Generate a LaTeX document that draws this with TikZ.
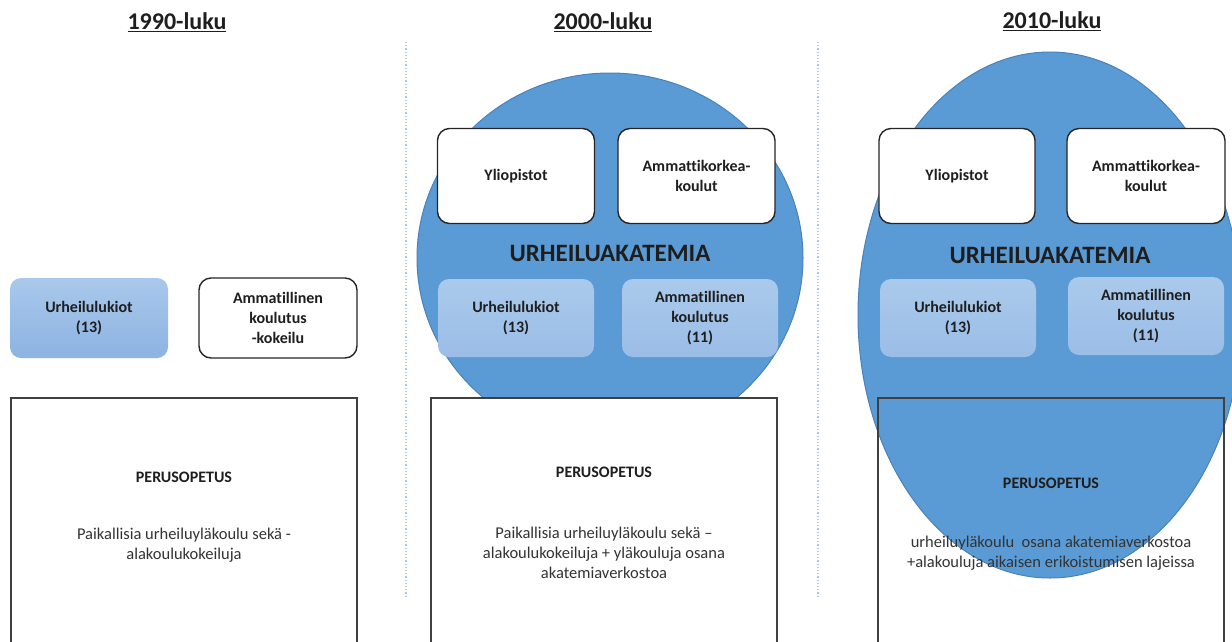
\documentclass[tikz,border=0pt]{standalone}
\usepackage{fontspec}
\setmainfont[Ligatures=NoCommon]{Carlito}
\usetikzlibrary{shapes.geometric}
\definecolor{akblue}{HTML}{5B9BD5}
\definecolor{akedge}{HTML}{4A82B8}
\definecolor{lighttop}{HTML}{AACAEC}
\definecolor{lightbot}{HTML}{9BBDE6}
\definecolor{lukitop}{HTML}{A9C8EB}
\definecolor{lukibot}{HTML}{8DB3E2}
\definecolor{dotblue}{HTML}{A8C8E8}
\definecolor{txt}{HTML}{1E1E1E}
\tikzset{
  title/.style={font=\bfseries\fontsize{24}{28}\selectfont, text=txt, inner sep=0pt},
  wbox/.style={draw=black!85, line width=1.4pt, fill=white, rounded corners=12pt,
    minimum width=157pt, minimum height=95pt, inner sep=0pt, align=center,
    font=\bfseries\fontsize{16}{20}\selectfont, text=txt},
  lbox/.style={top color=lighttop, bottom color=lightbot, draw=none, rounded corners=11pt,
    minimum width=156pt, minimum height=78pt, inner sep=0pt, align=center,
    font=\bfseries\fontsize{16}{20}\selectfont, text=txt},
  pbox/.style={draw=black!75, line width=1.6pt, rectangle,
    minimum width=346pt, minimum height=262pt, inner sep=0pt},
  phead/.style={font=\bfseries\fontsize{16}{20}\selectfont, text=txt, inner sep=0pt},
  pbody/.style={font=\fontsize{16.5}{20}\selectfont, text=black!80, align=center, inner sep=0pt},
  akad/.style={ellipse, fill=akblue, draw=akedge, line width=1pt, inner sep=0pt},
  aklabel/.style={font=\bfseries\fontsize{25}{30}\selectfont, text=txt, inner sep=0pt},
  sep/.style={draw=dotblue, line width=1.2pt, dotted}
}
\begin{document}
\begin{tikzpicture}[x=1pt,y=-1pt]
\clip (0,0) rectangle (1232,641);
\fill[white] (0,0) rectangle (1232,641);

% separators
\coordinate (s1a) at (406,42); \coordinate (s1b) at (406,598);
\coordinate (s2a) at (818,42); \coordinate (s2b) at (818,598);
\draw[sep] (s1a) -- (s1b);
\draw[sep] (s2a) -- (s2b);

% titles
\node[title] (t1) at (177,22) {\underline{1990-luku}};
\node[title] (t2) at (603,22) {\underline{2000-luku}};
\node[title] (t3) at (1052,21) {\underline{2010-luku}};

% ---------- 1990 ----------
\node[lbox, top color=lukitop, bottom color=lukibot, minimum width=158pt, minimum height=80pt] (luk1) at (89,318) {Urheilulukiot\\(13)};
\node[wbox, minimum width=158pt, minimum height=80pt] (amm1) at (278,318) {Ammatillinen\\koulutus\\-kokeilu};
\node[pbox, fill=white] (per1) at (184,529) {};
\node[phead] (ph1) at (184,477) {PERUSOPETUS};
\node[pbody] (pb1) at (184,545) {Paikallisia urheiluyläkoulu sekä -\\alakoulukokeiluja};

% ---------- 2000 ----------
\node[akad, minimum width=386pt, minimum height=370pt] (ak2) at (610,258) {};
\node[wbox] (yl2) at (516,176) {Yliopistot};
\node[wbox] (amk2) at (696.5,176) {Ammattikorkea-\\koulut};
\node[aklabel] (akl2) at (610,253) {URHEILUAKATEMIA};
\node[lbox] (luk2) at (516,318) {Urheilulukiot\\(13)};
\node[lbox] (amm2) at (700,318) {Ammatillinen\\koulutus\\(11)};
\node[pbox, fill=white] (per2) at (604,529) {};
\node[phead] (ph2) at (604,472) {PERUSOPETUS};
\node[pbody] (pb2) at (604,553) {Paikallisia urheiluyläkoulu sekä --\\alakoulukokeiluja + yläkouluja osana\\akatemiaverkostoa};

% ---------- 2010 ----------
\node[akad, minimum width=384pt, minimum height=526pt] (ak3) at (1050,315) {};
\node[wbox, minimum width=156pt] (yl3) at (957,176) {Yliopistot};
\node[wbox, minimum width=158pt] (amk3) at (1146,176) {Ammattikorkea-\\koulut};
\node[aklabel] (akl3) at (1050,255) {URHEILUAKATEMIA};
\node[lbox] (luk3) at (958,318) {Urheilulukiot\\(13)};
\node[lbox] (amm3) at (1146,316) {Ammatillinen\\koulutus\\(11)};
\node[pbox] (per3) at (1051,529) {};
\node[phead] (ph3) at (1051,483) {PERUSOPETUS};
\node[pbody] (pb3) at (1051,553) {urheiluyläkoulu\ \ osana akatemiaverkostoa\\+alakouluja aikaisen erikoistumisen lajeissa};
\end{tikzpicture}
\end{document}
